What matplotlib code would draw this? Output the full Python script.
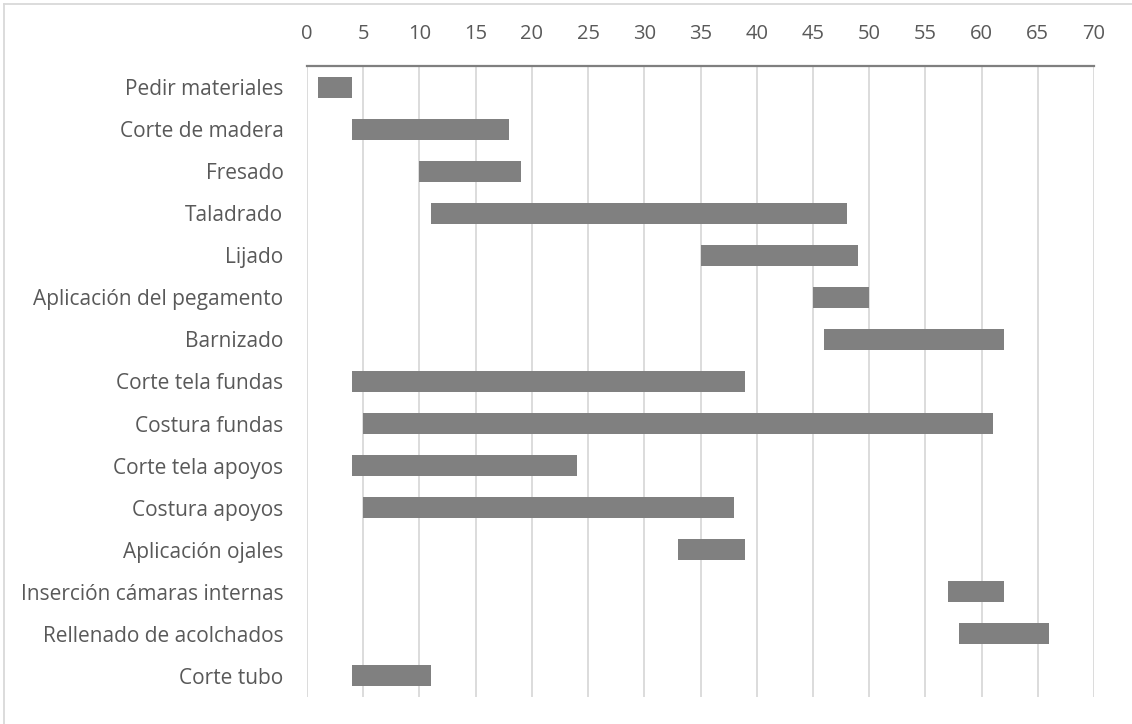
import matplotlib
matplotlib.use("Agg")
import matplotlib.pyplot as plt
from matplotlib.lines import Line2D

# Task schedule: start day and duration (days)
tasks = [
    "Pedir materiales",
    "Corte de madera",
    "Fresado",
    "Taladrado",
    "Lijado",
    "Aplicación del pegamento",
    "Barnizado",
    "Corte tela fundas",
    "Costura fundas",
    "Corte tela apoyos",
    "Costura apoyos",
    "Aplicación ojales",
    "Inserción cámaras internas",
    "Rellenado de acolchados",
    "Corte tubo",
]
start = [1, 4, 10, 11, 35, 45, 46, 4, 5, 4, 5, 33, 57, 58, 4]
duration = [3, 14, 9, 37, 14, 5, 16, 35, 56, 20, 33, 6, 5, 8, 7]
x_ticks = list(range(0, 75, 5))

plt.rcParams["font.family"] = ["Open Sans", "DejaVu Sans"]
text_color = "#595959"
grid_color = "#d9d9d9"

fig = plt.figure(figsize=(11.32, 7.24), dpi=100)
ax = fig.add_axes([307 / 1132, 1 - 697 / 724, (1094 - 307) / 1132, (697 - 66) / 724])

ypos = list(range(len(tasks)))
ax.barh(ypos, duration, left=start, height=0.5, color="#808080", zorder=3)

ax.set_xlim(0, 70)
ax.set_ylim(len(tasks) - 0.5, -0.5)
ax.set_xticks(x_ticks)
ax.set_xticklabels([str(t) for t in x_ticks])
ax.set_yticks(ypos)
ax.set_yticklabels(tasks)

ax.xaxis.tick_top()
ax.tick_params(axis="x", length=0, pad=16, labelsize=14.5, colors=text_color)
ax.tick_params(axis="y", length=0, pad=17, labelsize=15, colors=text_color)

ax.grid(axis="x", color=grid_color, linewidth=1.3, zorder=0)
for side in ("left", "right", "bottom"):
    ax.spines[side].set_visible(False)
ax.spines["top"].set_color("#7f7f7f")
ax.spines["top"].set_linewidth(1.6)

# Chart frame edges
fig.add_artist(Line2D([4 / 1132, 1], [1 - 4 / 724] * 2, transform=fig.transFigure,
                      color=grid_color, linewidth=1.3))
fig.add_artist(Line2D([4 / 1132] * 2, [0, 1 - 4 / 724], transform=fig.transFigure,
                      color=grid_color, linewidth=1.3))

fig.savefig("out.png", dpi=100)
